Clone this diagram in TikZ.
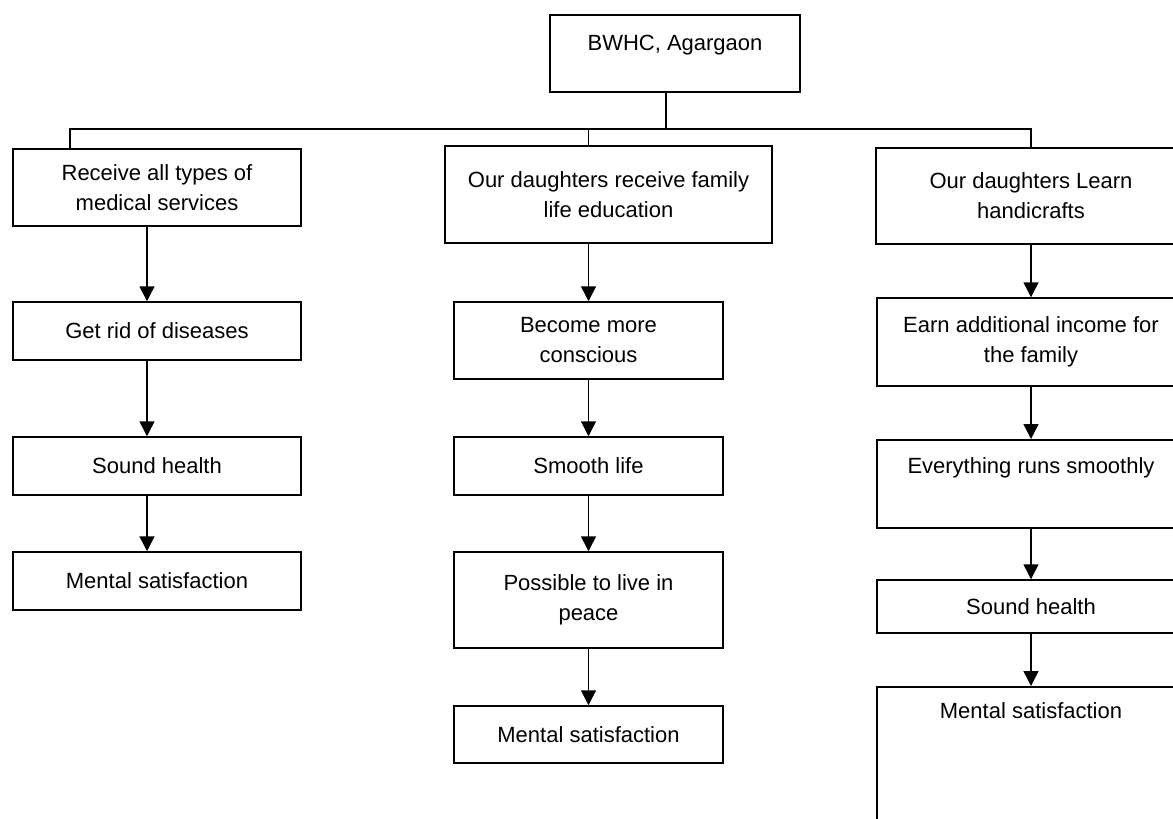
\documentclass[tikz,border=0pt]{standalone}
\usepackage{fontspec}
\setmainfont{Liberation Sans}
\usetikzlibrary{arrows.meta}
\begin{document}
\begin{tikzpicture}[x=1pt,y=-1pt,
  box/.style={draw,line width=1.5pt,align=center,inner sep=0pt,font=\fontsize{22}{30}\selectfont},
  topbox/.style={box,anchor=north},
  arr/.style={line width=1.5pt,-{Triangle[width=15pt,length=15pt]}},
  bus/.style={line width=1.5pt}]
\useasboundingbox (0,0) rectangle (1173,819);
\clip (0,0) rectangle (1173,819);
% head
\node[topbox,minimum width=250pt,text height=36pt,text depth=41pt] (bwhc) at (675,14) {BWHC, Agargaon};
% left branch
\node[box,minimum width=288pt,minimum height=77pt] (med) at (157,187.5) {Receive all types of\\medical services};
\node[box,minimum width=288pt,minimum height=58pt] (rid) at (157,331) {Get rid of diseases};
\node[box,minimum width=288pt,minimum height=58pt] (healthL) at (157,466) {Sound health};
\node[box,minimum width=288pt,minimum height=58pt] (mentalL) at (157,581) {Mental satisfaction};
% middle branch
\node[box,minimum width=327pt,minimum height=97pt] (edu) at (608.5,194.5) {Our daughters receive family\\life education};
\node[box,minimum width=269pt,minimum height=77pt] (conscious) at (588.5,340.5) {Become more\\conscious};
\node[box,minimum width=269pt,minimum height=58pt] (smooth) at (588.5,466) {Smooth life};
\node[box,minimum width=269pt,minimum height=96pt] (peace) at (588.5,600) {Possible to live in\\peace};
\node[box,minimum width=269pt,minimum height=57pt] (mentalM) at (588.5,734.5) {Mental satisfaction};
% right branch
\node[box,minimum width=310pt,minimum height=96pt] (craft) at (1031,196) {Our daughters Learn\\handicrafts};
\node[box,minimum width=308pt,minimum height=88pt] (income) at (1031,342) {Earn additional income for\\the family};
\node[topbox,minimum width=308pt,text height=34pt,text depth=54pt] (runs) at (1031,439) {Everything runs smoothly};
\node[box,minimum width=308pt,minimum height=53pt] (healthR) at (1031,606.5) {Sound health};
\node[topbox,minimum width=308pt,text height=32pt,text depth=140pt] (mentalR) at (1031,686) {Mental satisfaction};
% bus line
\coordinate (busL) at (70,129);
\coordinate (busR) at (1031,129);
\draw[bus] ([xshift=-9pt]bwhc.south) -- ([xshift=-9pt]bwhc.south |- busL);
\draw[bus] (busL |- med.north) -- (busL) -- (busR) -- (craft.north);
\draw[bus] (conscious.north |- busL) -- (conscious.north |- edu.north);
% arrows
\foreach \a/\b in {med/rid,rid/healthL,healthL/mentalL}
  \draw[arr] ([xshift=-10pt]\a.south) -- ([xshift=-10pt]\b.north);
\draw[arr] (conscious.north |- edu.south) -- (conscious.north);
\foreach \a/\b in {conscious/smooth,smooth/peace,peace/mentalM}
  \draw[arr] (\a) -- (\b);
\foreach \a/\b in {craft/income,income/runs,runs/healthR,healthR/mentalR}
  \draw[arr] (\a.south) -- (\b.north);
\end{tikzpicture}
\end{document}
